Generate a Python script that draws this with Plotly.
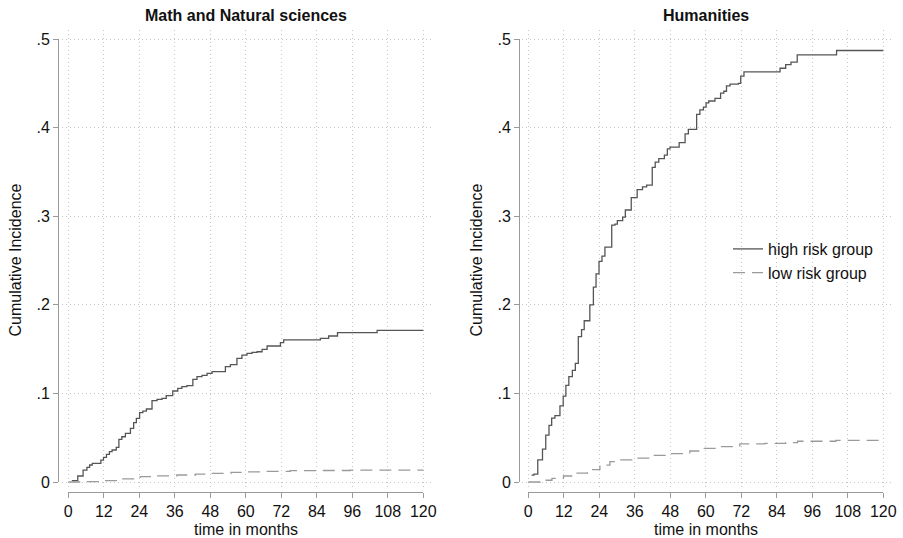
import plotly.graph_objects as go

# ---------------- data ----------------
months_ticks = [0, 12, 24, 36, 48, 60, 72, 84, 96, 108, 120]
ci_ticks = [0, 0.1, 0.2, 0.3, 0.4, 0.5]
ci_ticktext = ["0", ".1", ".2", ".3", ".4", ".5"]

panel_titles = ["Math and Natural sciences", "Humanities"]

# Math and Natural sciences
math_high_t = [1.2, 3.2, 5.0, 6.3, 7.2, 8.1, 11.0, 11.9, 12.9, 13.9, 14.8, 16.2, 17.1, 18.1, 19.3,
               21.0, 22.1, 23.0, 24.1, 25.2, 26.4, 28.3, 30.0, 31.7, 33.1, 35.3, 37.0, 38.4, 40.1,
               42.1, 43.5, 45.2, 46.9, 48.6, 53.1, 54.8, 57.0, 58.7, 60.4, 62.1, 63.8, 65.5, 67.2,
               71.7, 72.8, 85.2, 88.0, 91.0, 104.4, 120]
math_high_ci = [0.0015, 0.0068, 0.0135, 0.0166, 0.0192, 0.0211, 0.0248, 0.0278, 0.0312, 0.0342,
                0.0361, 0.0391, 0.0481, 0.0511, 0.0549, 0.0606, 0.0670, 0.0719, 0.0782, 0.0801,
                0.0824, 0.0918, 0.0933, 0.0944, 0.0974, 0.1027, 0.1057, 0.1076, 0.1087, 0.1159,
                0.1189, 0.1204, 0.1227, 0.1245, 0.1302, 0.1324, 0.1396, 0.1433, 0.1452, 0.1463,
                0.1470, 0.1497, 0.1535, 0.1573, 0.1603, 0.1621, 0.1648, 0.1685, 0.1712, 0.1712]
math_low_t = [0, 5, 11.9, 17, 24.3, 30, 36.7, 43, 48, 55, 60.4, 66, 75, 84, 95.3, 108, 120]
math_low_ci = [0, 0.0005, 0.0015, 0.0035, 0.006, 0.007, 0.0079, 0.009, 0.0098, 0.0108, 0.0115,
               0.012, 0.0128, 0.013, 0.0135, 0.0135, 0.0135]

# Humanities
hum_high_t = [1.1, 1.9, 3.2, 4.8, 5.9, 7.0, 7.9, 9.0, 10.7, 11.8, 12.7, 13.7, 14.9, 15.9, 16.9,
              18.0, 18.9, 20.8, 22.0, 22.9, 23.9, 24.9, 25.9, 28.2, 29.3, 30.1, 31.9, 32.8, 34.8,
              36.8, 38.6, 40.0, 41.9, 42.9, 44.1, 46.0, 47.0, 47.9, 51.0, 53.0, 54.1, 56.9, 58.0,
              59.2, 60.1, 61.0, 63.1, 65.0, 66.1, 67.0, 68.2, 71.0, 71.8, 72.9, 85.1, 87.0, 88.8,
              90.9, 104.2, 120]
hum_high_ci = [0.0077, 0.009, 0.025, 0.037, 0.053, 0.064, 0.072, 0.075, 0.086, 0.097, 0.109, 0.119,
               0.126, 0.134, 0.164, 0.172, 0.182, 0.200, 0.220, 0.235, 0.249, 0.255, 0.265, 0.290,
               0.291, 0.295, 0.299, 0.307, 0.321, 0.330, 0.333, 0.335, 0.355, 0.361, 0.365, 0.369,
               0.376, 0.378, 0.383, 0.393, 0.398, 0.415, 0.420, 0.423, 0.428, 0.430, 0.433, 0.439,
               0.441, 0.447, 0.449, 0.450, 0.458, 0.463, 0.467, 0.471, 0.474, 0.482, 0.487, 0.487]
hum_low_t = [0, 4, 8, 11.9, 16, 20, 24.2, 27.6, 31, 35, 42, 47.9, 54.6, 58, 63.7, 71.5, 80, 87,
             91, 104, 120]
hum_low_ci = [0, 0.002, 0.004, 0.0068, 0.010, 0.014, 0.019, 0.023, 0.025, 0.027, 0.030, 0.032,
              0.035, 0.038, 0.040, 0.043, 0.0435, 0.0445, 0.046, 0.047, 0.047]

series_names = ["high risk group", "low risk group"]

# ---------------- layout geometry (pixels) ----------------
W, H = 903, 538
FONT = "Liberation Sans, Arial, Helvetica, sans-serif"
HIGH_COLOR = "#555555"
LOW_COLOR = "#9a9a9a"
AXIS_COLOR = "#9a9a9a"
GRID_COLOR = "#c4c4c4"

px_per_month = 355 / 120.0
y0_px, y5_px = 482.0, 39.0           # pixel rows of 0 and .5
px_per_unit = (y0_px - y5_px) / 0.5
grid_top_px, grid_bot_px = 30.0, 488.0
x_zero_px = [68.3, 528.3]            # pixel column of month 0 in each panel
yaxis_line_px = [58.0, 519.0]
xaxis_line_px = 492.0

y_range = [(y0_px - grid_bot_px) / px_per_unit, (y0_px - grid_top_px) / px_per_unit]
x_range = [-2.05, 122.45]


def px_x(p):
    return p / W


def px_y(p):
    return (H - p) / H


fig = go.Figure()

panels = [
    (math_high_t, math_high_ci, math_low_t, math_low_ci),
    (hum_high_t, hum_high_ci, hum_low_t, hum_low_ci),
]

for i, (ht, hc, lt, lc) in enumerate(panels):
    xa = "x" if i == 0 else "x2"
    ya = "y" if i == 0 else "y2"
    fig.add_trace(go.Scatter(
        x=ht, y=hc, mode="lines", line=dict(color=HIGH_COLOR, width=1.3, shape="hv"),
        name=series_names[0], showlegend=(i == 1), xaxis=xa, yaxis=ya, hoverinfo="skip"))
    fig.add_trace(go.Scatter(
        x=lt, y=lc, mode="lines",
        line=dict(color=LOW_COLOR, width=1.3, shape="hv", dash="12px,7px"),
        name=series_names[1], showlegend=(i == 1), xaxis=xa, yaxis=ya, hoverinfo="skip"))
    # invisible anchor traces for the decorative (offset) axes
    dxa = "x3" if i == 0 else "x4"
    dya = "y3" if i == 0 else "y4"
    fig.add_trace(go.Scatter(
        x=[months_ticks[0], months_ticks[-1]], y=[ci_ticks[0], ci_ticks[-1]], mode="lines",
        line=dict(width=0, color="rgba(0,0,0,0)"), showlegend=False, hoverinfo="skip",
        xaxis=dxa, yaxis=dya))

layout = dict(
    width=W, height=H,
    margin=dict(l=0, r=0, t=0, b=0, pad=0, autoexpand=False),
    paper_bgcolor="white", plot_bgcolor="rgba(0,0,0,0)",
    font=dict(family=FONT, size=16, color="#111111"),
    showlegend=True,
    legend=dict(x=px_x(728), y=px_y(232), xanchor="left", yanchor="top",
                bgcolor="rgba(0,0,0,0)", font=dict(size=16, family=FONT, color="#111111"),
                tracegroupgap=4, traceorder="normal", itemwidth=30),
)

for i in range(2):
    sfx = "" if i == 0 else "2"
    left_px = x_zero_px[i] + x_range[0] * px_per_month
    right_px = x_zero_px[i] + x_range[1] * px_per_month
    layout["xaxis" + sfx] = dict(
        domain=[px_x(left_px), px_x(right_px)], range=x_range,
        anchor="y" + sfx, tickvals=months_ticks, showticklabels=False, ticks="",
        showgrid=True, gridcolor=GRID_COLOR, gridwidth=1, griddash="1px,3px",
        zeroline=False, showline=False, fixedrange=True, automargin=False)
    layout["yaxis" + sfx] = dict(
        domain=[px_y(grid_bot_px), px_y(grid_top_px)], range=y_range,
        anchor="x" + sfx, tickvals=ci_ticks, showticklabels=False, ticks="",
        showgrid=True, gridcolor=GRID_COLOR, gridwidth=1, griddash="1px,3px",
        zeroline=False, showline=False, fixedrange=True, automargin=False)
    dsx = "3" if i == 0 else "4"
    layout["xaxis" + dsx] = dict(
        domain=[px_x(x_zero_px[i]), px_x(x_zero_px[i] + 120 * px_per_month)], range=[0, 120],
        anchor="free", position=px_y(xaxis_line_px),
        tickvals=months_ticks, ticks="outside", ticklen=5, tickcolor=AXIS_COLOR, tickwidth=1,
        showline=True, linecolor=AXIS_COLOR, linewidth=1, showgrid=False, zeroline=False,
        tickfont=dict(size=16, family=FONT, color="#111111"), fixedrange=True, automargin=False)
    layout["yaxis" + dsx] = dict(
        domain=[px_y(y0_px), px_y(y5_px)], range=[0, 0.5],
        anchor="free", position=px_x(yaxis_line_px[i]),
        tickvals=ci_ticks, ticktext=ci_ticktext, ticks="outside", ticklen=5,
        tickcolor=AXIS_COLOR, tickwidth=1,
        showline=True, linecolor=AXIS_COLOR, linewidth=1, showgrid=False, zeroline=False,
        tickfont=dict(size=16, family=FONT, color="#111111"), fixedrange=True, automargin=False)

fig.update_layout(**layout)

annotations = []
for i in range(2):
    left_px = x_zero_px[i] + x_range[0] * px_per_month
    right_px = x_zero_px[i] + x_range[1] * px_per_month
    annotations.append(dict(
        text="<b>" + panel_titles[i] + "</b>", x=px_x((left_px + right_px) / 2), y=px_y(16),
        xref="paper", yref="paper", showarrow=False, xanchor="center", yanchor="middle",
        font=dict(size=16, family=FONT, color="#111111")))
    annotations.append(dict(
        text="time in months", x=px_x(x_zero_px[i] + 60 * px_per_month), y=px_y(529),
        xref="paper", yref="paper", showarrow=False, xanchor="center", yanchor="middle",
        font=dict(size=16, family=FONT, color="#111111")))
    annotations.append(dict(
        text="Cumulative Incidence", x=px_x(15 if i == 0 else 476), y=px_y((y0_px + y5_px) / 2),
        xref="paper", yref="paper", showarrow=False, xanchor="center", yanchor="middle",
        textangle=-90, font=dict(size=16, family=FONT, color="#111111")))
fig.update_layout(annotations=annotations)

# remove the default page margin so the figure sits at the window's top-left corner
page_fix = ("document.documentElement.style.margin='0';document.body.style.margin='0';"
            "document.body.style.overflow='hidden';")
fig.write_html("out.html", post_script=page_fix, config={"displayModeBar": False})
